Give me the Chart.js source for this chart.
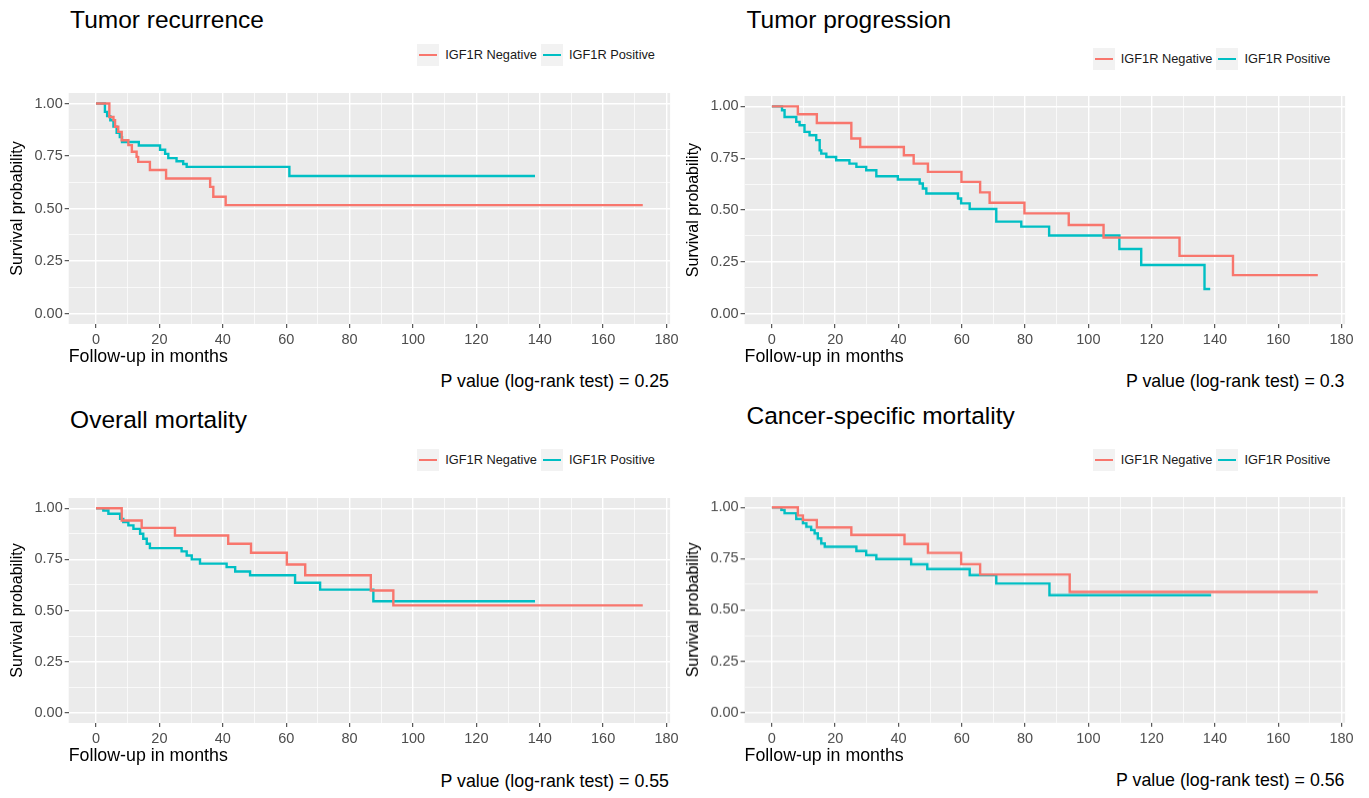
<!DOCTYPE html>
<html>
<head>
<meta charset="utf-8">
<script src="https://cdn.jsdelivr.net/npm/chart.js@4.4.1/dist/chart.umd.min.js"></script>
<style>
  body { margin: 0; background: #fff; width: 1369px; height: 798px; position: relative; overflow: hidden;
         font-family: "Liberation Sans", Arial, sans-serif; color: #000; }
  .cv { position: absolute; }
  .title { position: absolute; font-size: 24.5px; line-height: 24.5px; white-space: nowrap; }
  .pval { position: absolute; font-size: 17.8px; line-height: 17.8px; white-space: nowrap; text-align: right; }
  .legend { position: absolute; display: flex; align-items: center; font-size: 12.8px; line-height: 22px; white-space: nowrap; color: #1a1a1a; }
  .key { width: 22px; height: 22px; background: #F2F2F2; position: relative; margin-right: 6px; }
  .key i { position: absolute; left: 2px; right: 2px; top: 10px; height: 2px; }
  .legend span { margin-right: 4px; }
</style>
</head>
<body>
<script>
// ---- data ----
const groups = ['IGF1R Negative', 'IGF1R Positive'];
const groupColors = ['#F8766D', '#00BFC4'];
const panelTitles = ['Tumor recurrence', 'Tumor progression', 'Overall mortality', 'Cancer-specific mortality'];
const pValues = ['0.25', '0.3', '0.55', '0.56'];
const xTicks = [0, 20, 40, 60, 80, 100, 120, 140, 160, 180];
const xMinor = [10, 30, 50, 70, 90, 110, 130, 150, 170];
const yTicks = [0, 0.25, 0.5, 0.75, 1];
const yMinor = [0.125, 0.375, 0.625, 0.875];

// tumor recurrence
const recNegMonths = [0, 4.2, 5.5, 6.0, 7.0, 8.1, 10.2, 11.3, 12.8, 13.3, 17.0, 22.1, 36.0, 37.0, 40.9, 172.5];
const recNegSurv = [1, 0.936, 0.921, 0.889, 0.865, 0.825, 0.802, 0.770, 0.746, 0.722, 0.683, 0.643, 0.603, 0.556, 0.516, 0.516];
const recPosMonths = [0, 2.8, 3.5, 4.5, 5.5, 6.5, 7.5, 8.2, 13.5, 20.2, 21.8, 22.8, 25.4, 27.5, 28.6, 61.0, 138.5];
const recPosSurv = [1, 0.96, 0.94, 0.92, 0.89, 0.86, 0.84, 0.817, 0.80, 0.78, 0.76, 0.74, 0.725, 0.712, 0.698, 0.655, 0.655];

// tumor progression
const progNegMonths = [0, 8.2, 14.2, 25.1, 27.9, 41.7, 44.8, 49.3, 59.9, 65.8, 68.8, 79.8, 93.8, 104.8, 128.8, 145.7, 172.5];
const progNegSurv = [1, 0.962, 0.92, 0.845, 0.804, 0.764, 0.724, 0.684, 0.636, 0.585, 0.535, 0.484, 0.428, 0.367, 0.279, 0.186, 0.186];
const progPosMonths = [0, 3.2, 4.0, 7.7, 8.75, 10.3, 11.9, 14.0, 15.1, 15.6, 17.2, 20.3, 24.5, 26.7, 29.8, 33.0, 39.8, 46.7, 47.7, 48.8, 58.8, 59.8, 62.5, 70.9, 78.8, 87.6, 109.8, 116.7, 136.7, 138.5];
const progPosSurv = [1, 0.981, 0.949, 0.925, 0.909, 0.877, 0.861, 0.837, 0.788, 0.772, 0.756, 0.740, 0.724, 0.708, 0.692, 0.663, 0.647, 0.628, 0.604, 0.580, 0.556, 0.532, 0.505, 0.444, 0.420, 0.377, 0.3125, 0.235, 0.119, 0.119];

// overall mortality
const osNegMonths = [0, 8.1, 14.4, 24.9, 41.7, 48.9, 60.2, 66.0, 86.7, 93.8, 172.5];
const osNegSurv = [1, 0.94, 0.904, 0.867, 0.826, 0.782, 0.725, 0.672, 0.598, 0.525, 0.525];
const osPosMonths = [0, 2.3, 3.9, 7.6, 8.6, 10.2, 11.8, 13.9, 14.9, 16.0, 17.0, 27.0, 28.6, 30.2, 32.8, 41.2, 43.9, 48.6, 62.8, 70.7, 87.5, 138.5];
const osPosSurv = [1, 0.989, 0.973, 0.948, 0.932, 0.916, 0.899, 0.875, 0.851, 0.826, 0.805, 0.789, 0.769, 0.750, 0.729, 0.712, 0.691, 0.672, 0.636, 0.602, 0.545, 0.545];

// cancer-specific mortality
const cssNegMonths = [0, 8.2, 9.8, 14.2, 25.1, 41.9, 49.3, 59.8, 65.8, 94.1, 172.5];
const cssNegSurv = [1, 0.96, 0.938, 0.902, 0.865, 0.821, 0.778, 0.723, 0.673, 0.588, 0.588];
const cssPosMonths = [0, 3.0, 4.0, 7.7, 9.8, 10.9, 12.4, 13.5, 14.5, 15.6, 16.7, 26.7, 29.8, 33.0, 44.0, 49.1, 62.5, 70.9, 87.7, 138.8];
const cssPosSurv = [1, 0.987, 0.971, 0.943, 0.922, 0.905, 0.889, 0.873, 0.848, 0.824, 0.808, 0.787, 0.767, 0.748, 0.722, 0.699, 0.670, 0.629, 0.572, 0.572];

const panelSeries = [
  [[recNegMonths, recNegSurv], [recPosMonths, recPosSurv]],
  [[progNegMonths, progNegSurv], [progPosMonths, progPosSurv]],
  [[osNegMonths, osNegSurv], [osPosMonths, osPosSurv]],
  [[cssNegMonths, cssNegSurv], [cssPosMonths, cssPosSurv]]
];

// ---- layout (plot area boxes in page px) ----
const layout = [
  { L: 68.6, R: 670, T: 92.8, B: 323.8, yt: 17.5, titleY: 7.5, legY: 54.5, pY: 382 },
  { L: 745, R: 1345.5, T: 95.6, B: 323.7, yt: 694, titleY: 7.5, legY: 59, pY: 382 },
  { L: 68.6, R: 670, T: 497.5, B: 722.5, yt: 17.5, titleY: 408, legY: 460, pY: 782 },
  { L: 745, R: 1345.5, T: 497.1, B: 722, yt: 694, titleY: 404, legY: 460, pY: 781 }
];

Chart.defaults.font.family = '"Liberation Sans", Arial, sans-serif';

const panelBg = {
  id: 'panelBg',
  beforeDraw(chart) {
    const a = chart.chartArea, c = chart.ctx;
    c.save();
    c.fillStyle = '#EBEBEB';
    c.fillRect(a.left, a.top, a.right - a.left, a.bottom - a.top);
    c.restore();
  }
};

const fmtY = v => v.toFixed(2);

function addText(cls, text, style) {
  const d = document.createElement('div');
  d.className = cls;
  d.textContent = text;
  Object.assign(d.style, style);
  document.body.appendChild(d);
  return d;
}

layout.forEach((g, i) => {
  // title
  addText('title', panelTitles[i], { left: (g.L + 1.5) + 'px', top: g.titleY + 'px' });

  // legend
  const leg = document.createElement('div');
  leg.className = 'legend';
  groups.forEach((name, k) => {
    const key = document.createElement('div');
    key.className = 'key';
    const ln = document.createElement('i');
    ln.style.background = groupColors[k];
    key.appendChild(ln);
    const sp = document.createElement('span');
    sp.textContent = name;
    leg.appendChild(key);
    leg.appendChild(sp);
  });
  leg.style.right = (1369 - (g.R - 11)) + 'px';
  leg.style.top = (g.legY - 11) + 'px';
  document.body.appendChild(leg);

  // p value
  addText('pval', 'P value (log-rank test) = ' + pValues[i],
    { right: (1369 - (g.R - 1)) + 'px', top: (g.pY - 9) + 'px' });

  // chart canvas
  const padTop = 12, padRight = 20, xH = 44;
  const cLeft = g.yt - 9.6;
  const box = document.createElement('div');
  box.className = 'cv';
  box.style.left = cLeft + 'px';
  box.style.top = (g.T - padTop) + 'px';
  box.style.width = (g.R + padRight - cLeft) + 'px';
  box.style.height = (g.B - g.T + padTop + xH) + 'px';
  const cv = document.createElement('canvas');
  box.appendChild(cv);
  document.body.appendChild(box);

  const datasets = panelSeries[i].map(([months, surv], k) => ({
    label: groups[k],
    data: months.map((m, j) => ({ x: m, y: surv[j] })),
    borderColor: groupColors[k],
    backgroundColor: groupColors[k],
    borderWidth: 2.4,
    pointRadius: 0,
    stepped: 'before',
    fill: false
  }));

  const isMajorX = v => xTicks.includes(v);
  const isMajorY = v => yTicks.includes(v);

  new Chart(cv, {
    type: 'line',
    data: { datasets },
    plugins: [panelBg],
    options: {
      responsive: true,
      maintainAspectRatio: false,
      animation: false,
      events: [],
      layout: { padding: { top: padTop, right: padRight, left: 0, bottom: 0 } },
      plugins: { legend: { display: false }, tooltip: { enabled: false }, title: { display: false } },
      scales: {
        x: {
          type: 'linear',
          min: -8.625, max: 181.125,
          afterBuildTicks: s => { s.ticks = xTicks.concat(xMinor).sort((a, b) => a - b).map(v => ({ value: v })); },
          afterFit: s => { s.height = xH; },
          border: { display: false },
          grid: {
            color: '#FFFFFF',
            lineWidth: c => isMajorX(c.tick.value) ? 1.4 : 0.7,
            tickColor: c => isMajorX(c.tick.value) ? '#333333' : 'rgba(0,0,0,0)',
            tickLength: 4,
            tickWidth: 1,
            drawOnChartArea: true
          },
          ticks: {
            autoSkip: false, maxRotation: 0, padding: 3,
            color: '#4D4D4D', font: { size: 14.5 },
            callback: v => isMajorX(v) ? String(v) : ''
          },
          title: {
            display: true, text: 'Follow-up in months', align: 'start',
            color: '#000', font: { size: 17.8, lineHeight: 1.2 }, padding: { top: 0, bottom: 0 }
          }
        },
        y: {
          type: 'linear',
          min: -0.05, max: 1.05,
          afterBuildTicks: s => { s.ticks = yTicks.concat(yMinor).sort((a, b) => a - b).map(v => ({ value: v })); },
          afterFit: s => { s.width = g.L - cLeft; },
          border: { display: false },
          grid: {
            color: '#FFFFFF',
            lineWidth: c => isMajorY(c.tick.value) ? 1.4 : 0.7,
            tickColor: c => isMajorY(c.tick.value) ? '#333333' : 'rgba(0,0,0,0)',
            tickLength: 4,
            tickWidth: 1
          },
          ticks: {
            autoSkip: false, padding: 2,
            color: '#4D4D4D', font: { size: 14.5 },
            callback: v => isMajorY(v) ? fmtY(v) : ''
          },
          title: {
            display: true, text: 'Survival probability',
            color: '#000', font: { size: 16, lineHeight: 1.2 }, padding: { top: 0, bottom: 0 }
          }
        }
      }
    }
  });
});
</script>
</body>
</html>
